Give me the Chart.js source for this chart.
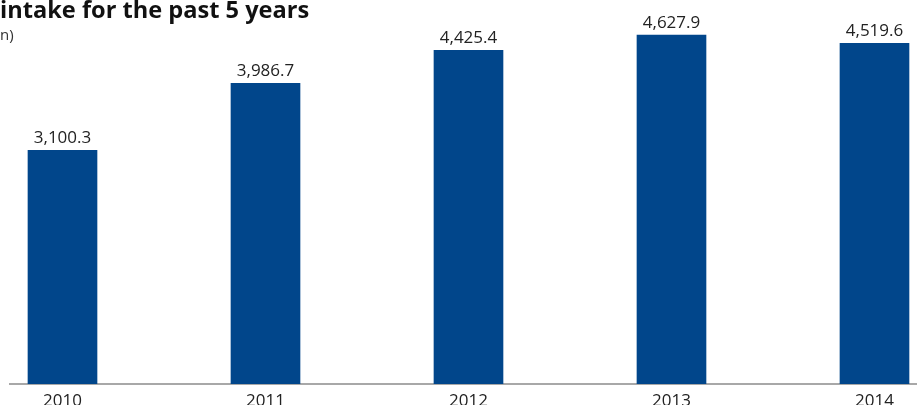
<!DOCTYPE html>
<html>
<head>
<meta charset="utf-8">
<script src="https://cdn.jsdelivr.net/npm/chart.js@4/dist/chart.umd.min.js"></script>
<style>
  html, body { margin: 0; padding: 0; background: #fff; width: 917px; height: 405px; overflow: hidden; }
  #wrap { position: absolute; left: 0; top: 0; width: 917px; height: 430px; }
  #title { position: absolute; left: 0; top: -7px; font: bold 23.6px "Open Sans", sans-serif; color: #111; white-space: nowrap; }
  #sub { position: absolute; left: 0; top: 24px; font: 15px "Open Sans", sans-serif; color: #333; white-space: nowrap; }
</style>
</head>
<body>
<div id="wrap"><canvas id="c"></canvas></div>
<div id="title">intake for the past 5 years</div>
<div id="sub">n)</div>
<script>
const categories = ["2010", "2011", "2012", "2013", "2014"];
const values = [3100.3, 3986.7, 4425.4, 4627.9, 4519.6];

const fmt = v => v.toLocaleString('en-US', { minimumFractionDigits: 1, maximumFractionDigits: 1 });

const valueLabels = {
  id: 'valueLabels',
  afterDatasetsDraw(chart) {
    const ctx = chart.ctx;
    const meta = chart.getDatasetMeta(0);
    ctx.save();
    ctx.font = '17px "Open Sans", sans-serif';
    ctx.fillStyle = '#222';
    ctx.textAlign = 'center';
    ctx.textBaseline = 'alphabetic';
    meta.data.forEach((bar, i) => {
      ctx.fillText(fmt(values[i]), bar.x, bar.y - 7);
    });
    ctx.restore();
  }
};

new Chart(document.getElementById('c'), {
  type: 'bar',
  data: {
    datasets: [{
      data: values.map((v, i) => ({ x: i, y: v })),
      backgroundColor: '#01468b',
      barThickness: 69
    }]
  },
  options: {
    responsive: true,
    maintainAspectRatio: false,
    animation: false,
    layout: { padding: { left: 10, right: 0, top: 7, bottom: 0 } },
    plugins: { legend: { display: false }, tooltip: { enabled: false } },
    scales: {
      x: {
        type: 'linear',
        offset: false,
        min: -0.2586,
        max: 4.2094,
        afterBuildTicks: s => { s.ticks = categories.map((_, i) => ({ value: i })); },
        afterFit: s => { s.height = 46; },
        grid: { display: false, drawTicks: false, offset: false },
        border: { display: true, color: '#a8a8a8', width: 2 },
        ticks: {
          autoSkip: false,
          maxRotation: 0,
          padding: 7,
          color: '#222',
          font: { family: '"Open Sans", sans-serif', size: 17 },
          callback: v => categories[v]
        }
      },
      y: {
        display: false,
        min: 0,
        max: 5000
      }
    }
  },
  plugins: [valueLabels]
});
</script>
</body>
</html>
